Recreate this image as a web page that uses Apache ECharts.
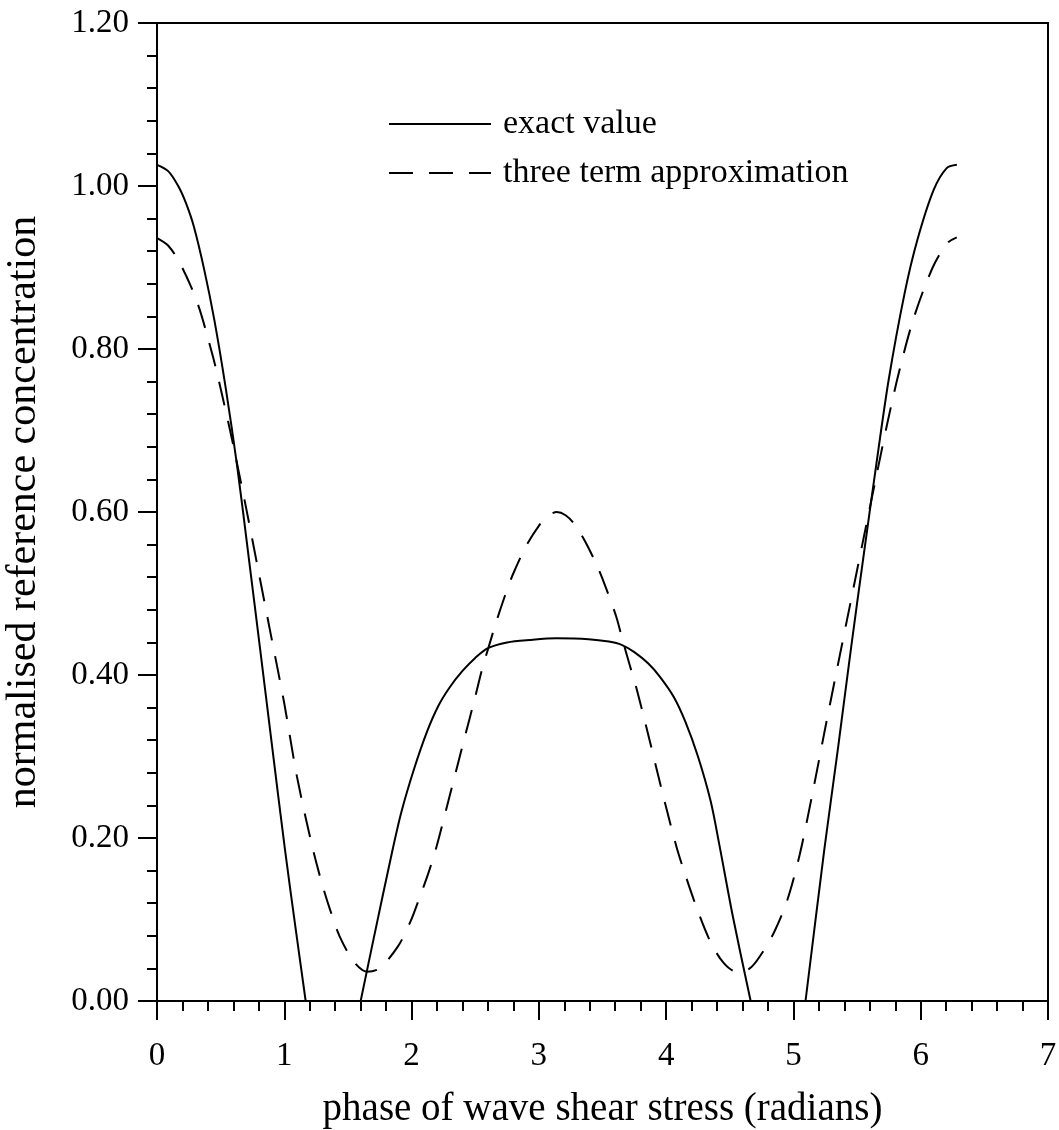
<!DOCTYPE html>
<html>
<head>
<meta charset="utf-8">
<script src="https://cdn.jsdelivr.net/npm/echarts@6/dist/echarts.min.js"></script>
<style>
html,body{margin:0;padding:0;background:#fff;}
#chart{width:1059px;height:1130px;}
</style>
</head>
<body>
<div id="chart"></div>
<script>
// exact value (solid); null separates the parts that lie on the zero line
const exactX = [0, 0.09, 0.17, 0.23, 0.29, 0.37, 0.45, 0.54, 0.63, 0.72, 0.81, 0.90, 1.006, 1.09, 1.168,
  1.40,
  1.60, 1.70, 1.85, 1.92, 2.02, 2.12, 2.21, 2.30, 2.40, 2.50, 2.60, 2.75, 2.93, 3.14, 3.39, 3.55, 3.65, 3.75, 3.86, 3.95, 4.06, 4.15, 4.25, 4.35, 4.42, 4.525, 4.664,
  4.90,
  5.095, 5.242, 5.35, 5.45, 5.55, 5.649, 5.748, 5.873, 5.974, 6.101, 6.204, 6.284];
const exactY = [1.026, 1.018, 0.999, 0.978, 0.950, 0.898, 0.836, 0.752, 0.656, 0.545, 0.432, 0.318, 0.185, 0.088, 0,
  null,
  0, 0.075, 0.185, 0.232, 0.285, 0.330, 0.362, 0.385, 0.405, 0.421, 0.433, 0.440, 0.443, 0.445, 0.444, 0.441, 0.437, 0.428, 0.414, 0.398, 0.373, 0.343, 0.300, 0.245, 0.190, 0.103, 0,
  null,
  0, 0.185, 0.310, 0.430, 0.545, 0.656, 0.762, 0.868, 0.934, 0.995, 1.022, 1.026];

// three term approximation (dashed)
const approxX = [0, 0.087, 0.174, 0.269, 0.334, 0.385, 0.444, 0.483, 0.537, 0.591, 0.70, 0.80, 0.90, 1.00, 1.10, 1.219, 1.30, 1.366, 1.433, 1.547, 1.65, 1.748, 1.893, 1.99, 2.07, 2.13, 2.19, 2.30, 2.40, 2.503, 2.552, 2.603, 2.667, 2.731, 2.795, 2.899, 3.00, 3.07, 3.14, 3.21, 3.28, 3.367, 3.46, 3.527, 3.607, 3.661, 3.716, 3.77, 3.87, 3.97, 4.08, 4.15, 4.25, 4.35, 4.45, 4.55, 4.657, 4.75, 4.85, 4.95, 5.05, 5.15, 5.25, 5.35, 5.45, 5.55, 5.65, 5.742, 5.83, 5.945, 6.094, 6.21, 6.283];
const approxY = [0.936, 0.927, 0.907, 0.876, 0.849, 0.822, 0.788, 0.763, 0.726, 0.688, 0.605, 0.525, 0.445, 0.365, 0.275, 0.190, 0.142, 0.109, 0.080, 0.048, 0.036, 0.040, 0.067, 0.097, 0.130, 0.156, 0.186, 0.252, 0.313, 0.375, 0.406, 0.433, 0.466, 0.496, 0.523, 0.558, 0.583, 0.595, 0.600, 0.596, 0.585, 0.563, 0.533, 0.507, 0.472, 0.441, 0.411, 0.382, 0.320, 0.256, 0.190, 0.155, 0.110, 0.072, 0.047, 0.036, 0.040, 0.058, 0.085, 0.123, 0.180, 0.255, 0.335, 0.413, 0.490, 0.567, 0.643, 0.712, 0.772, 0.838, 0.900, 0.930, 0.937];

const xTickLabels = ['0', '1', '2', '3', '4', '5', '6', '7'];
const yTickLabels = ['0.00', '0.20', '0.40', '0.60', '0.80', '1.00', '1.20'];
const seriesNames = ['exact value', 'three term approximation'];
const xName = 'phase of wave shear stress (radians)';
const yName = 'normalised reference concentration';

const exactData = exactX.map((x, i) => [x, exactY[i]]);
const approxData = approxX.map((x, i) => [x, approxY[i]]);

const FONT = '"Liberation Serif", "Times New Roman", serif';
const chart = echarts.init(document.getElementById('chart'));
chart.setOption({
  animation: false,
  backgroundColor: '#fff',
  grid: { left: 157, right: 11, top: 23, bottom: 129, show: true, borderColor: '#000', borderWidth: 2,
    containLabel: false, outerBoundsMode: 'none' },
  legend: {
    orient: 'vertical', left: 383, top: 102, itemWidth: 102, itemHeight: 20, itemGap: 15,
    data: seriesNames,
    itemStyle: { opacity: 0 },
    textStyle: { fontFamily: FONT, fontSize: 34, color: '#000', padding: [0, 0, 0, 7] }
  },
  xAxis: {
    type: 'value', min: 0, max: 7, interval: 1,
    name: xName, nameLocation: 'middle', nameGap: 89,
    nameTextStyle: { fontFamily: FONT, fontSize: 39, color: '#000' },
    axisLine: { onZero: false, lineStyle: { color: '#000', width: 2 } },
    axisTick: { show: true, inside: false, length: 19, lineStyle: { color: '#000', width: 2 } },
    minorTick: { show: true, splitNumber: 5, length: 10, lineStyle: { color: '#000', width: 2 } },
    axisLabel: { fontFamily: FONT, fontSize: 33, color: '#000', margin: 39, formatter: v => xTickLabels[Math.round(v)] },
    splitLine: { show: false }
  },
  yAxis: {
    type: 'value', min: 0, max: 1.2, interval: 0.2,
    name: yName, nameLocation: 'middle', nameGap: 112, nameRotate: 90,
    nameTextStyle: { fontFamily: FONT, fontSize: 42, color: '#000' },
    axisLine: { onZero: false, lineStyle: { color: '#000', width: 2 } },
    axisTick: { show: true, inside: false, length: 19, lineStyle: { color: '#000', width: 2 } },
    minorTick: { show: true, splitNumber: 5, length: 10, lineStyle: { color: '#000', width: 2 } },
    axisLabel: { fontFamily: FONT, fontSize: 33, color: '#000', margin: 28, formatter: v => yTickLabels[Math.round(v * 5)] },
    splitLine: { show: false }
  },
  series: [
    { name: seriesNames[0], type: 'line', data: exactData, symbol: 'none', smooth: 0.3, connectNulls: false, clip: true,
      itemStyle: { color: '#000' },
      lineStyle: { color: '#000', width: 2, type: 'solid' } },
    { name: seriesNames[1], type: 'line', data: approxData, symbol: 'none', smooth: 0.3, clip: true,
      itemStyle: { color: '#000' },
      lineStyle: { color: '#000', width: 2, type: [24, 16] } }
  ]
});
</script>
</body>
</html>
